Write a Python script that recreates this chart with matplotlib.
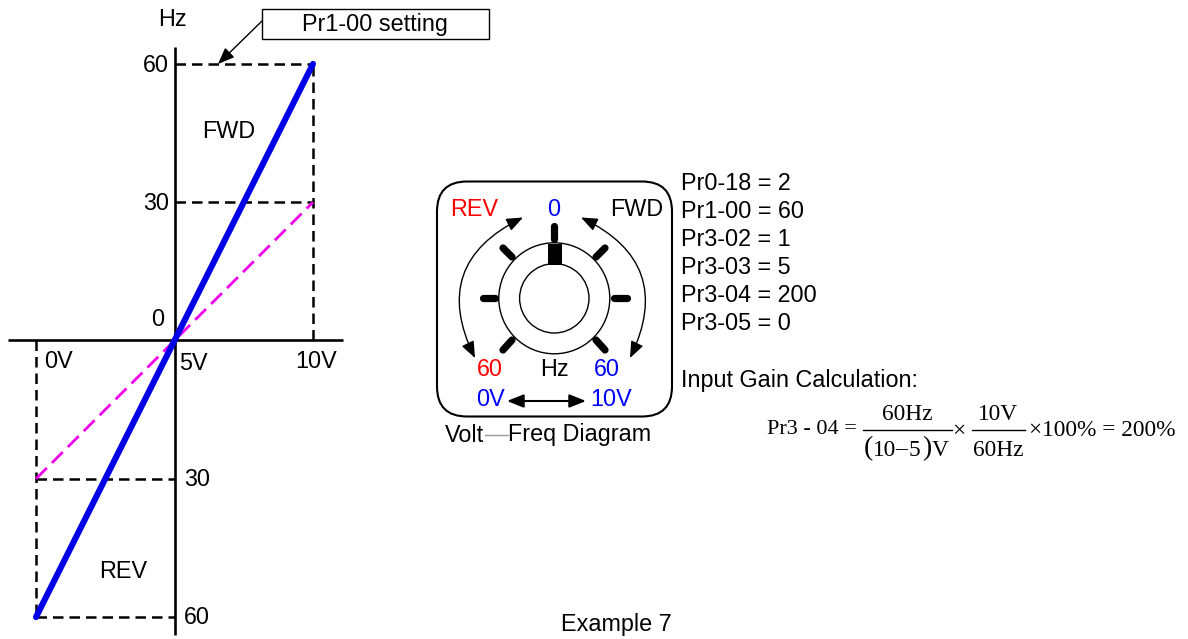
import matplotlib
matplotlib.use('Agg')
import matplotlib.pyplot as plt
from matplotlib.patches import Circle, FancyArrowPatch, FancyBboxPatch, Rectangle

plt.rcParams['font.family'] = ['Liberation Sans', 'DejaVu Sans']

W, H = 1188, 639

# graph values
volts = [0, 10]
fwd_hz = [-60, 60]
gain_hz = [-30, 30]
v_left, v_mid, v_right = 0, 5, 10
hz_ticks = [60, 30, -30, -60]
hz_labels = ['60', '30', '30', '60']
settings = ['Pr0-18 = 2', 'Pr1-00 = 60', 'Pr3-02 = 1', 'Pr3-03 = 5', 'Pr3-04 = 200', 'Pr3-05 = 0']

fig = plt.figure(figsize=(W / 100, H / 100), dpi=100)

# graph axes, limits worked out so 0V=36px, 10V=313px, 60=65px, -60=618px
ax = fig.add_axes([0, 0, 1, 1])
sx = 27.7
sy = 4.61
ax.set_xlim(-36 / sx, (W - 36) / sx)
ax.set_ylim(-(H - 340.5) / sy, 340.5 / sy)
ax.axis('off')

dash = dict(color='black', lw=1.8, ls=(0, (4.2, 2.4)))
ax.plot([v_mid, v_mid], [63.7, -63.9], color='black', lw=1.9, solid_capstyle='butt')
ax.plot([-1.0, 11.1], [0, 0], color='black', lw=1.9, solid_capstyle='butt')
ax.plot([v_mid, v_right], [60, 60], **dash)
ax.plot([v_mid, v_right], [30, 30], **dash)
ax.plot([v_right, v_right], [0, 60], **dash)
ax.plot([v_left, v_left], [0, -60], **dash)
ax.plot([v_left, v_mid], [-30, -30], **dash)
ax.plot([v_left, v_mid], [-60, -60], **dash)
ax.plot(volts, gain_hz, color='#ee00ee', lw=2, ls=(0, (5.5, 2.6)))
ax.plot(volts, fwd_hz, color='#0000e6', lw=4.4, solid_capstyle='round')

# the rest is placed in pixels
px = fig.add_axes([0, 0, 1, 1])
px.set_xlim(0, W)
px.set_ylim(H, 0)
px.axis('off')
px.patch.set_alpha(0)


def t(x, y, s, color='black', size=16.8, ha='left', family=None):
    px.text(x, y + 1, s, color=color, fontsize=size, ha=ha, va='center', family=family or 'Liberation Sans')


for v, lab, y in zip(hz_ticks, hz_labels, [65, 202, 478, 617]):
    if v > 0:
        t(169, y, lab, ha='right')
    else:
        t(184, y, lab)
t(158, 19, 'Hz')
t(151, 319, '0')
t(44, 361, '0V')
t(179, 362, '5V')
t(295, 360, '10V')
t(202, 130, 'FWD')
t(99, 571, 'REV')
t(616, 624, 'Example 7', ha='center')

# callout
px.add_patch(Rectangle((262, 9), 227, 30, fc='white', ec='black', lw=1))
t(375, 23, 'Pr1-00 setting', ha='center')
px.add_patch(FancyArrowPatch((262, 21), (218, 64), arrowstyle='-|>,head_length=0.5,head_width=0.2',
                             mutation_scale=20, color='black', lw=1, shrinkA=0, shrinkB=0))

# dial
px.add_patch(FancyBboxPatch((467, 211.5), 175, 175, boxstyle='round,pad=30,rounding_size=30',
                            fc='white', ec='black', lw=1.5))
cx, cy = 554.3, 298.3
px.add_patch(Circle((cx, cy), 55.5, fc='none', ec='black', lw=1))
px.add_patch(Circle((cx, cy), 34.7, fc='none', ec='black', lw=1))
px.add_patch(Rectangle((548, 244), 14, 21, fc='black', ec='none'))
marks = [((554.3, 226), (554.3, 239)), ((483, 298.3), (495, 298.3)), ((614, 298.3), (627, 298.3)),
         ((503, 248), (512, 257)), ((605, 248), (596, 257)), ((512, 340), (503, 350)), ((596, 340), (605, 350))]
for a, b in marks:
    px.plot([a[0], b[0]], [a[1], b[1]], color='black', lw=5.2, solid_capstyle='round')
head = '<|-|>,head_length=0.5,head_width=0.2'
arrow = dict(arrowstyle=head, mutation_scale=20, color='black', lw=1, shrinkA=0, shrinkB=0)
px.add_patch(FancyArrowPatch((523, 217.5), (475, 358), connectionstyle='arc3,rad=0.5', **arrow))
px.add_patch(FancyArrowPatch((581, 217.5), (630, 358), connectionstyle='arc3,rad=-0.5', **arrow))
px.add_patch(FancyArrowPatch((507, 401), (586, 401), arrowstyle=head, mutation_scale=20,
                             color='black', lw=1.5, shrinkA=0, shrinkB=0))
t(450, 208, 'REV', color='#ff0000')
t(554, 208, '0', color='#0000ff', ha='center')
t(610, 208, 'FWD')
t(490, 369, '60', color='#ff0000', ha='center')
t(554, 369, 'Hz', ha='center')
t(607, 369, '60', color='#0000ff', ha='center')
t(476, 399, '0V', color='#0000ff')
t(590, 399, '10V', color='#0000ff')
t(445, 434, 'Volt')
px.plot([485, 508], [435, 435], color='#999999', lw=1)
t(508, 434, 'Freq Diagram')

# settings
for s, y in zip(settings, [182, 210, 238, 266, 295, 323]):
    t(681, y, s)
t(681, 380, 'Input Gain Calculation:')

# formula
serif = 'Liberation Serif'
t(767, 429, 'Pr3 - 04 =', size=16, family=serif)
px.plot([863, 952], [430, 430], color='black', lw=1)
px.plot([972, 1025], [430, 430], color='black', lw=1)
t(907, 413, '60Hz', size=16.8, ha='center', family=serif)
t(864, 448, '(', size=20, family=serif)
t(873, 449, '10', size=16.8, family=serif)
t(901, 449, '\u2013', size=16.8, ha='center', family=serif)
t(909, 449, '5', size=16.8, family=serif)
t(922, 448, ')', size=20, family=serif)
t(932, 449, 'V', size=16.8, family=serif)
t(959, 430, '\u00d7', size=16.8, ha='center', family=serif)
t(998.5, 413, '10V', size=16.8, ha='center', family=serif)
t(998.5, 449, '60Hz', size=16.8, ha='center', family=serif)
t(1029, 429, '\u00d7100% = 200%', size=16.8, family=serif)

fig.savefig('out.png', dpi=100)
